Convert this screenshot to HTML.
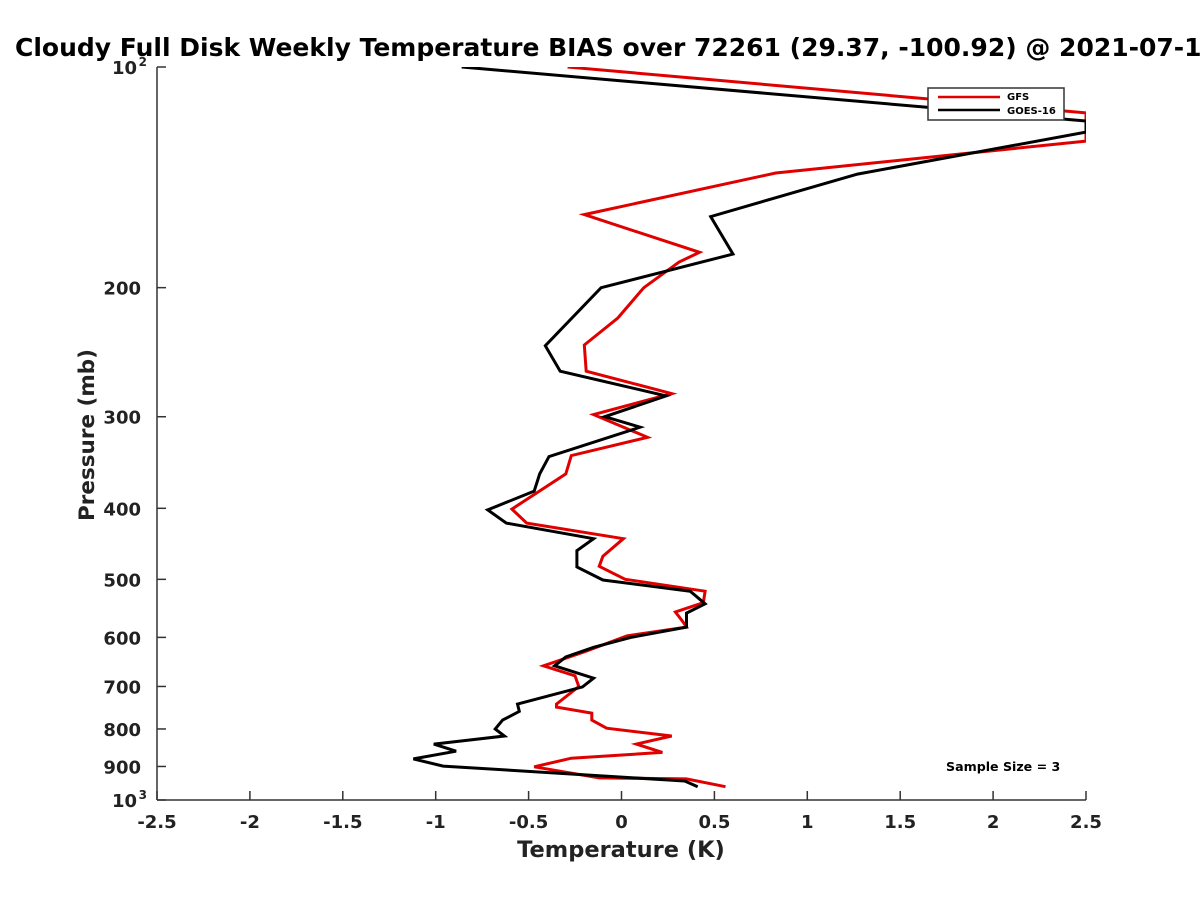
<!DOCTYPE html>
<html><head><meta charset="utf-8"><style>body{margin:0;background:#fff}svg{display:block;font-family:"DejaVu Sans","Liberation Sans",sans-serif;font-weight:bold}</style></head>
<body>
<svg id="chart" width="1200" height="900" viewBox="0 0 1200 900">
<text x="15" y="56" font-size="25" fill="#000">Cloudy Full Disk Weekly Temperature BIAS over 72261 (29.37, -100.92) @ 2021-07-1</text>
<defs><clipPath id="plotclip"><rect x="157" y="67" width="929" height="733"/></clipPath></defs>
<g id="axes"></g>
<g id="series" clip-path="url(#plotclip)"></g>
<g>
<rect x="928" y="88" width="136" height="32" fill="#fff" stroke="#333" stroke-width="1.5"/>
<line x1="938" y1="97" x2="1000" y2="97" stroke="#e00000" stroke-width="2.5"/>
<text x="1007" y="100" font-size="10">GFS</text>
<line x1="938" y1="110" x2="1000" y2="110" stroke="#000" stroke-width="2.5"/>
<text x="1007" y="114" font-size="10">GOES-16</text>
</g>
<text x="946" y="771" font-size="12.6">Sample Size = 3</text>
<text x="621" y="857" font-size="22.5" text-anchor="middle" fill="#222">Temperature (K)</text>
<text transform="translate(94,435) rotate(-90)" font-size="21.5" text-anchor="middle" fill="#222">Pressure (mb)</text>
</svg>
<script>
const xTicks=[-2.5,-2,-1.5,-1,-0.5,0,0.5,1,1.5,2,2.5];
const xTickLabels=["-2.5","-2","-1.5","-1","-0.5","0","0.5","1","1.5","2","2.5"];
const yTicks=[100,200,300,400,500,600,700,800,900,1000];
const yTickLabels=["10|2","200","300","400","500","600","700","800","900","10|3"];
const gfsPressure=[100,115.5,126.2,139.5,159,179,184.5,200,220,239.5,260,279,298,320,339,359,401,419,440,465,480,500,519,538,554,571,581,597,628,656,677,700,740,747,761,778,798,818,839,861,877,901,933,936,959];
const gfsBias=[-0.29,2.5,2.5,0.83,-0.2,0.42,0.31,0.12,-0.02,-0.2,-0.19,0.27,-0.15,0.14,-0.27,-0.3,-0.59,-0.51,0.01,-0.1,-0.12,0.02,0.45,0.44,0.29,0.33,0.35,0.03,-0.2,-0.42,-0.25,-0.23,-0.35,-0.35,-0.16,-0.16,-0.08,0.27,0.08,0.22,-0.27,-0.47,-0.12,0.35,0.56];
const goesPressure=[100,118.5,122.7,140,160,180,200,240,260,281,300,310,340,359,379,402,419,440,457,481,501,519,540,556,581,600,619,638,656,682,701,740,757,778,800,818,839,858,879,899,942,959];
const goesBias=[-0.86,2.5,2.5,1.27,0.48,0.6,-0.11,-0.41,-0.33,0.24,-0.09,0.1,-0.39,-0.44,-0.47,-0.72,-0.62,-0.15,-0.24,-0.24,-0.1,0.37,0.45,0.35,0.35,0.05,-0.15,-0.3,-0.36,-0.15,-0.21,-0.56,-0.55,-0.64,-0.68,-0.63,-1.01,-0.89,-1.12,-0.96,0.34,0.41];
const NS="http://www.w3.org/2000/svg";
const X0=157,X1=1086,Y0=67,Y1=800;
function xs(v){return X0+(v+2.5)/5*(X1-X0);}
function ys(p){return Y0+(Math.log10(p)-2)*(Y1-Y0);}
const axes=document.getElementById('axes');
function mk(tag,attrs,parent){const e=document.createElementNS(NS,tag);for(const k in attrs)e.setAttribute(k,attrs[k]);parent.appendChild(e);return e;}
let l=mk('line',{x1:X0,y1:Y1,x2:X1,y2:Y1,stroke:'#333','stroke-width':1.5},axes);


l=mk('line',{x1:X0,y1:Y0,x2:X0,y2:Y1,stroke:'#333','stroke-width':1.5},axes);


xTicks.forEach((v,i)=>{const x=xs(v);
 const t=mk('line',{x1:x,y1:Y1,x2:x,y2:Y1-9,stroke:'#333','stroke-width':1.5},axes);
 
 
 const tx=mk('text',{x:x,y:Y1+28,'font-size':18,'text-anchor':'middle',fill:'#222'},axes);
 tx.textContent=xTickLabels[i];
 
 });
yTicks.forEach((p,i)=>{const y=ys(p);
 const t=mk('line',{x1:X0,y1:y,x2:X0+9,y2:y,stroke:'#333','stroke-width':1.5},axes);
 
 
 const lab=yTickLabels[i];
 if(lab.indexOf('|')>=0){
  const parts=lab.split('|');
  const tx=mk('text',{x:X0-20,y:y+7,'font-size':18,'text-anchor':'end',fill:'#222'},axes);
  tx.textContent=parts[0];
  
  
  const sp=mk('text',{x:X0-10,y:y-1,'font-size':12,'text-anchor':'end',fill:'#222'},axes);
  sp.textContent=parts[1];
  
  
 } else {
  const tx=mk('text',{x:X0-16,y:y+7,'font-size':18,'text-anchor':'end',fill:'#222'},axes);
  tx.textContent=lab;
  
  
 }});
const series=document.getElementById('series');
function draw(P,V,color,name){const pts=P.map((p,i)=>xs(V[i]).toFixed(1)+','+ys(p).toFixed(1)).join(' ');
 const pl=mk('polyline',{points:pts,fill:'none',stroke:color,'stroke-width':3,'stroke-linejoin':'miter'},series);
 
 }
draw(gfsPressure,gfsBias,'#e00000','gfs-line');
draw(goesPressure,goesBias,'#000','goes16-line');
</script>
</body></html>
